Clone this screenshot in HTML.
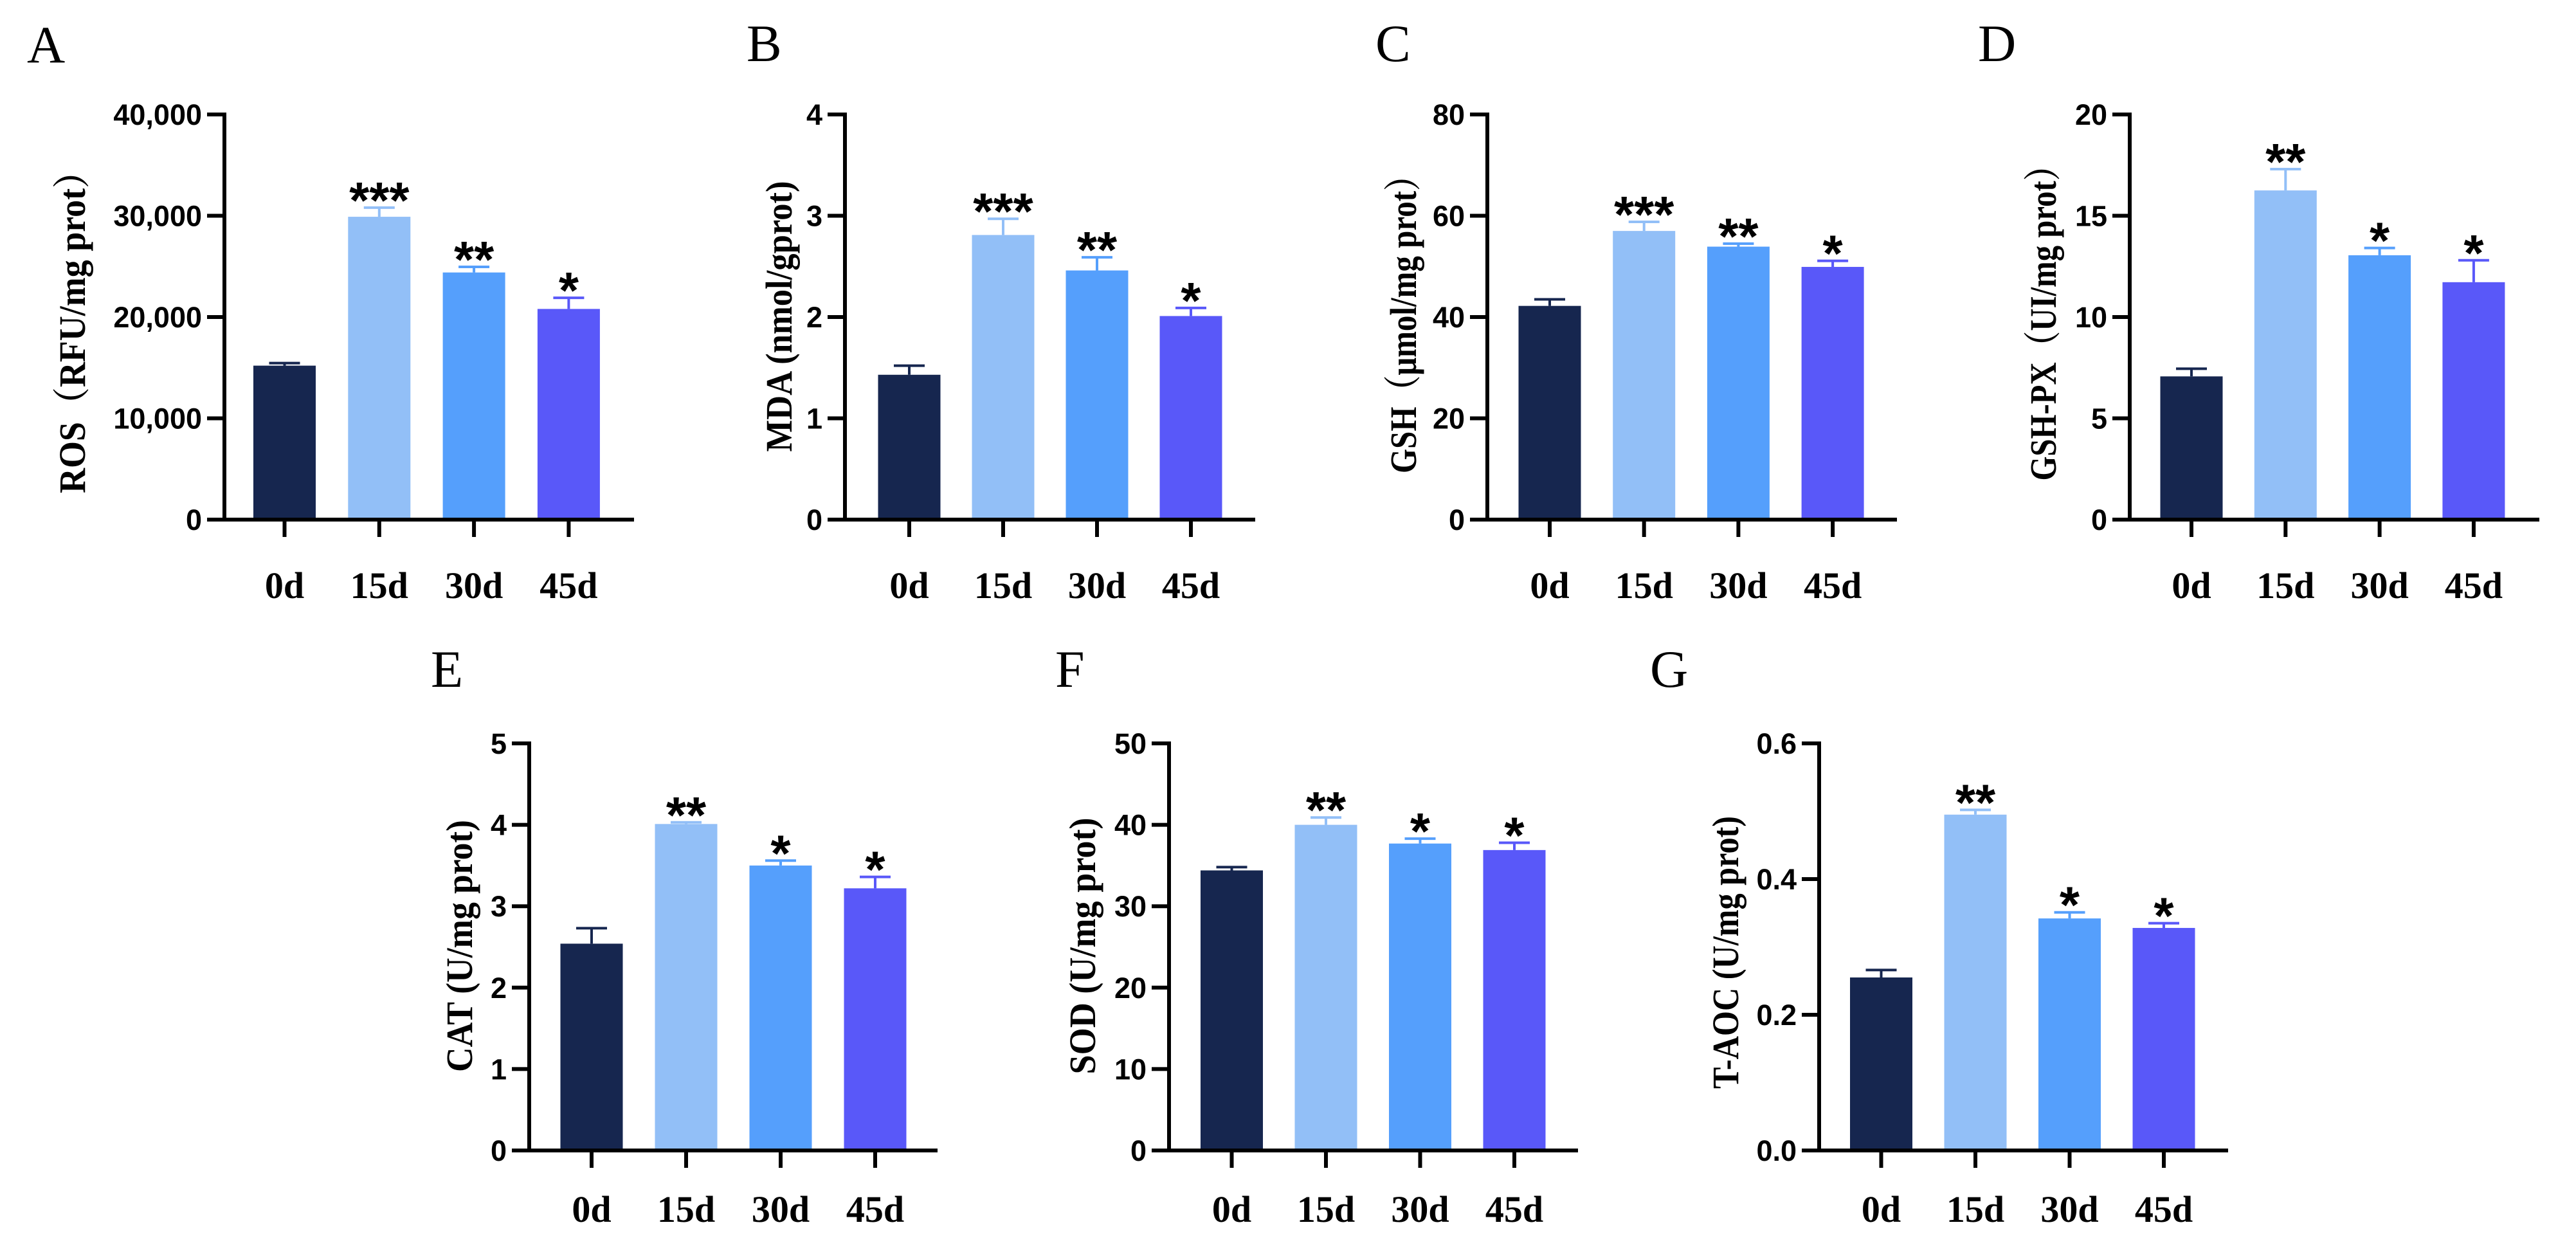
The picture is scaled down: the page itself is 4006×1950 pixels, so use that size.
<!DOCTYPE html>
<html><head><meta charset="utf-8"><style>
html,body{margin:0;padding:0;background:#fff;}
svg{display:block;}
</style></head><body>
<svg id="fig" width="4006" height="1950" viewBox="0 0 4006 1950" xmlns="http://www.w3.org/2000/svg"></svg>
<script>
// ---- data ----
const categories = ["0d","15d","30d","45d"];
const panelLetters = ["A","B","C","D","E","F","G"];
const yTitles = ["ROS（RFU/mg prot）","MDA (nmol/gprot)","GSH（μmol/mg prot）","GSH-PX（UI/mg prot）","CAT (U/mg prot)","SOD (U/mg prot)","T-AOC (U/mg prot)"];
const rosValues = [15200, 29900, 24400, 20800];
const rosErrors = [250, 900, 550, 1100];
const mdaValues = [1.43, 2.81, 2.46, 2.01];
const mdaErrors = [0.09, 0.16, 0.13, 0.08];
const gshValues = [42.2, 57.0, 53.9, 49.9];
const gshErrors = [1.3, 1.8, 0.6, 1.2];
const gshpxValues = [7.07, 16.25, 13.05, 11.72];
const gshpxErrors = [0.38, 1.05, 0.36, 1.08];
const catValues = [2.54, 4.01, 3.50, 3.22];
const catErrors = [0.19, 0.02, 0.06, 0.14];
const sodValues = [34.4, 40.0, 37.7, 36.9];
const sodErrors = [0.4, 0.9, 0.6, 0.9];
const taocValues = [0.255, 0.495, 0.342, 0.328];
const taocErrors = [0.011, 0.007, 0.009, 0.007];
const rosTicks = [0,10000,20000,30000,40000];
const rosTickLabels = ["0","10,000","20,000","30,000","40,000"];
const mdaTicks = [0,1,2,3,4];
const gshTicks = [0,20,40,60,80];
const gshpxTicks = [0,5,10,15,20];
const catTicks = [0,1,2,3,4,5];
const sodTicks = [0,10,20,30,40,50];
const taocTicks = [0,0.2,0.4,0.6];
const taocTickLabels = ["0.0","0.2","0.4","0.6"];
const significance = [["","***","**","*"],["","***","**","*"],["","***","**","*"],["","**","*","*"],["","**","*","*"],["","**","*","*"],["","**","*","*"]];

// ---- layout ----
const colors = ["#16264f","#92bff7","#559ffc","#5958f9"];
const layouts = [
 {ax:349, c0:442.5, sp:147.3, end:986, top:178, zero:808, lx:42, ly:97, tx:113, ty:503, tl:528, xl:122},
 {ax:1314, c0:1414, sp:146, end:1952, top:178, zero:808, lx:1161, ly:95, tx:1212, ty:492, tl:421, xl:122},
 {ax:2313, c0:2410, sp:146.7, end:2950, top:178, zero:808, lx:2139, ly:95, tx:2183, ty:492, tl:488, xl:122},
 {ax:3312, c0:3408, sp:146.3, end:3949, top:178, zero:808, lx:3076, ly:95, tx:3178, ty:490, tl:515, xl:122},
 {ax:823, c0:920, sp:147, end:1458, top:1156, zero:1789, lx:670, ly:1068, tx:715, ty:1471, tl:392, xl:111},
 {ax:1818, c0:1915.5, sp:146.5, end:2454, top:1156, zero:1789, lx:1641, ly:1068, tx:1684, ty:1471, tl:399, xl:111},
 {ax:2829, c0:2925.5, sp:146.5, end:3465, top:1156, zero:1789, lx:2566, ly:1068, tx:2684, ty:1481, tl:424, xl:111}
];
const panels = [
 {v:rosValues, e:rosErrors, t:rosTicks, tl:rosTickLabels, name:"ros"},
 {v:mdaValues, e:mdaErrors, t:mdaTicks, tl:mdaTicks.map(String), name:"mda"},
 {v:gshValues, e:gshErrors, t:gshTicks, tl:gshTicks.map(String), name:"gsh"},
 {v:gshpxValues, e:gshpxErrors, t:gshpxTicks, tl:gshpxTicks.map(String), name:"gsh-px"},
 {v:catValues, e:catErrors, t:catTicks, tl:catTicks.map(String), name:"cat"},
 {v:sodValues, e:sodErrors, t:sodTicks, tl:sodTicks.map(String), name:"sod"},
 {v:taocValues, e:taocErrors, t:taocTicks, tl:taocTickLabels, name:"t-aoc"}
];
const NS = "http://www.w3.org/2000/svg";
const svg = document.getElementById("fig");
function mk(tag, attrs, parent){
  const el = document.createElementNS(NS, tag);
  for (const k in attrs) el.setAttribute(k, attrs[k]);
  parent.appendChild(el);
  return el;
}
const SANS = '"Liberation Sans", Arial, sans-serif';
const SERIF = '"Liberation Serif", "Noto Serif CJK SC", "Noto Sans CJK SC", serif';

panels.forEach((p, pi) => {
  const L = layouts[pi];
  const g = mk("g", {}, svg);
  
  
  const yMax = p.t[p.t.length-1];
  const yScale = v => L.zero - (v / yMax) * (L.zero - L.top);
  const xScale = i => L.c0 + i * L.sp;

  // panel letter
  const lt = mk("text", {x:L.lx, y:L.ly, "font-family":SERIF, "font-size":82, fill:"#000"}, g);
  lt.textContent = panelLetters[pi];
  
  

  // bars + error bars + stars
  p.v.forEach((val, i) => {
    const cx = xScale(i), bw = 97;
    const yt = yScale(val);
    const bar = mk("rect", {x:cx-bw/2, y:yt, width:bw, height:L.zero-yt, fill:colors[i]}, g);
    
    
    const ye = yScale(val + p.e[i]);
    const eb = mk("path", {d:`M${cx},${yt} V${ye} M${cx-24},${ye} H${cx+24}`, stroke:colors[i], "stroke-width":4, fill:"none"}, g);
    
    
    if (significance[pi][i]) {
      const st = mk("text", {x:cx, y:ye - 30 + 46, "text-anchor":"middle", "font-family":SANS, "font-weight":"bold", "font-size":80, fill:"#000"}, g);
      st.textContent = significance[pi][i];
      
      
    }
    // x tick + label
    const xt = mk("line", {x1:cx, x2:cx, y1:L.zero, y2:L.zero+27, stroke:"#000", "stroke-width":6}, g);
    
    
    const xl = mk("text", {x:cx, y:L.zero+L.xl, "text-anchor":"middle", "font-family":SERIF, "font-weight":"bold", "font-size":58, fill:"#000"}, g);
    xl.textContent = categories[i];
    
    
  });

  // axes
  const ya = mk("line", {x1:L.ax, x2:L.ax, y1:L.top-3, y2:L.zero+3, stroke:"#000", "stroke-width":6}, g);
  
  
  const xa = mk("line", {x1:L.ax-27, x2:L.end, y1:L.zero, y2:L.zero, stroke:"#000", "stroke-width":6}, g);
  
  

  p.t.forEach((tv, k) => {
    const y = yScale(tv);
    const tk = mk("line", {x1:L.ax-27, x2:L.ax, y1:y, y2:y, stroke:"#000", "stroke-width":6}, g);
    
    
    const tt = mk("text", {x:L.ax-35, y:y+16, "text-anchor":"end", "font-family":SANS, "font-weight":"bold", "font-size":45, fill:"#000"}, g);
    tt.textContent = p.tl[k];
    
    
  });

  // y title
  const bx = L.tx + 19;
  const yt = mk("text", {x:bx, y:L.ty, transform:`rotate(-90 ${bx} ${L.ty})`, "text-anchor":"middle", "font-family":SERIF, "font-weight":"bold", "font-size":58, fill:"#000", textLength:L.tl, lengthAdjust:"spacingAndGlyphs"}, g);
  yt.textContent = yTitles[pi];
  
  
});
</script>
</body></html>
